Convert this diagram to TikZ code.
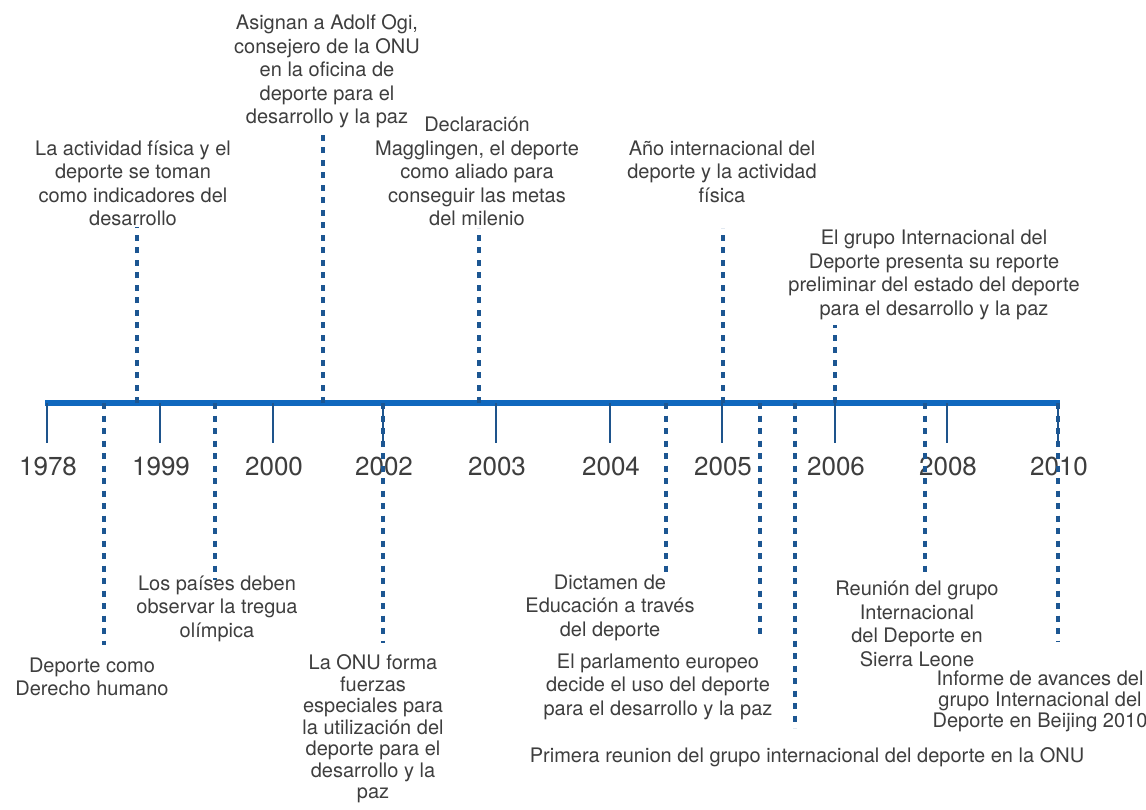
\documentclass[tikz,border=0pt]{standalone}
\usepackage{fontspec}
\setmainfont{TeX Gyre Heros}
\usepackage{tikz}
\usetikzlibrary{calc,positioning}

\definecolor{ejeazul}{RGB}{16,104,190}
\definecolor{marcaazul}{RGB}{30,84,140}
\definecolor{puntoazul}{RGB}{28,86,146}
\definecolor{texto}{RGB}{62,62,62}

\begin{document}
\begin{tikzpicture}[x=1pt,y=-1pt]

  % Parameters
  \def\yeje{403}
  \def\ymarca{443}
  \def\yanio{475}

  % Styles
  \tikzstyle{eje}=[draw=ejeazul,line width=6pt]
  \tikzstyle{marca}=[draw=marcaazul,line width=2.5pt]
  \tikzstyle{guia}=[draw=puntoazul,line width=4pt,dash pattern=on 6pt off 6.5pt]
  \tikzstyle{anio}=[anchor=base,inner sep=0pt,text=texto,font=\fontsize{26}{30}\selectfont]
  \tikzstyle{nota}=[align=center,inner sep=0pt,text=texto,font=\fontsize{20}{23.5}\selectfont]

  % \hito{<id>}{<x>}{<y-end>}{<label-pos>}{<text>}[<node options>]
  \DeclareDocumentCommand \hito { m m m m m O{} }{%
    \coordinate (eje-#1) at (#2,\yeje);
    \coordinate (fin-#1) at (#2,#3);
    \node[nota,#6] (nota-#1) at #4 {#5};
    \draw[guia] (eje-#1) -- (fin-#1);
  }

  % ===========================================================================

  % Page frame
  \fill[white] (0,0) rectangle (1146,809);
  \useasboundingbox (0,0) rectangle (1146,809);

  % Draw axis
  \coordinate (inicio) at (45,\yeje);
  \coordinate (final) at (1060,\yeje);
  \draw[eje] (inicio) -- (final);

  % Draw ticks and years
  \foreach \x/\yr in {47/1978,160/1999,273/2000,383/2002,496/2003,610/2004,722/2005,835/2006,947/2008,1058/2010} {
    \coordinate (t-\yr) at (\x,\yeje);
    \coordinate (tb-\yr) at (\x,\ymarca);
    \draw[marca] (t-\yr) -- (tb-\yr);
    \node[anio] (anio-\yr) at (\x+1,\yanio) {\yr};
  }

  % Draw events above the axis
  \hito{actividad}{137}{227}{(133,183.5)}{La actividad física y el\\deporte se toman\\como indicadores del\\desarrollo}
  \hito{ogi}{323}{133}{(327,71.5)}{Asignan a Adolf Ogi,\\consejero de la ONU\\en la oficina de\\deporte para el\\desarrollo y la paz}
  \hito{magglingen}{479}{228}{(477,171.5)}{Declaración\\Magglingen, el deporte\\como aliado para\\conseguir las metas\\del milenio}
  \hito{anio}{723}{228}{(722,171.5)}{Año internacional del\\deporte y la actividad\\física}
  \hito{reporte}{835}{325}{(934,275)}{El grupo Internacional del\\Deporte presenta su reporte\\preliminar del estado del deporte\\para el desarrollo y la paz}

  % Draw events below the axis
  \hito{derecho}{104}{645}{(92,677)}{Deporte como\\Derecho humano}
  \hito{tregua}{215}{580}{(217,608.5)}{Los países deben\\observar la tregua\\olímpica}
  \hito{fuerzas}{383}{643}{(373,729)}{La ONU forma\\fuerzas\\especiales para\\la utilización del\\deporte para el\\desarrollo y la\\paz}[font=\fontsize{20}{21.5}\selectfont]
  \hito{dictamen}{666}{575}{(610,607.5)}{Dictamen de\\Educación a través\\del deporte}
  \hito{parlamento}{760}{640}{(658,686.5)}{El parlamento europeo\\decide el uso del deporte\\para el desarrollo y la paz}
  \hito{primera}{795}{728}{(807,757)}{Primera reunion del grupo internacional del deporte en la ONU}
  \hito{sierra}{925}{575}{(917,624)}{Reunión del grupo\\Internacional\\del Deporte en\\Sierra Leone}
  \hito{beijing}{1058}{642}{(1040,701)}{Informe de avances del\\grupo Internacional del\\Deporte en Beijing 2010}[font=\fontsize{20}{21}\selectfont]

\end{tikzpicture}
\end{document}
